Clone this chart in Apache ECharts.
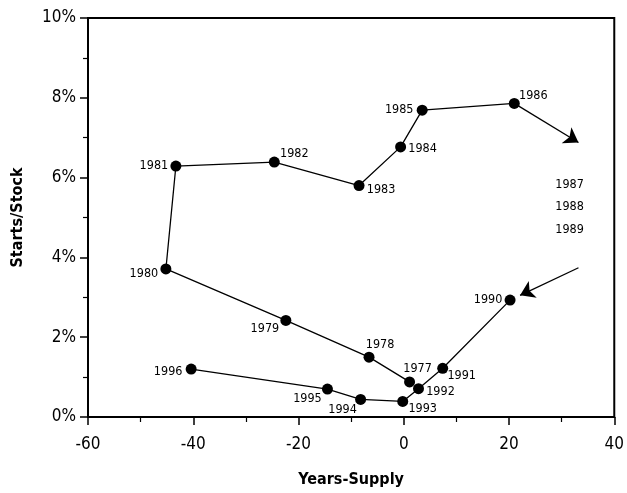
<!DOCTYPE html>
<html>
<head>
<meta charset="utf-8">
<script src="https://cdn.jsdelivr.net/npm/echarts@6/dist/echarts.min.js"></script>
<style>html,body{margin:0;padding:0;background:#fff;}#c{width:627px;height:493px;}</style>
</head>
<body>
<div id="c"></div>
<script>
// ---- data ----
const years1 = [1977, 1978, 1979, 1980, 1981, 1982, 1983, 1984, 1985, 1986];
const xs1 = [1.1, -6.6, -22.4, -45.2, -43.3, -24.6, -8.5, -0.6, 3.5, 21.0];
const ys1 = [0.88, 1.50, 2.42, 3.71, 6.29, 6.39, 5.80, 6.77, 7.69, 7.86];

const years2 = [1990, 1991, 1992, 1993, 1994, 1995, 1996];
const xs2 = [20.2, 7.4, 2.8, -0.2, -8.2, -14.5, -40.4];
const ys2 = [2.93, 1.22, 0.71, 0.39, 0.44, 0.70, 1.20];

const offYears = [1987, 1988, 1989];
const offXs = [31.5, 31.5, 31.5];
const offYs = [5.81, 5.27, 4.70];

const arrowOut = [[21.0, 7.86], [33.2, 6.88]];
const arrowIn = [[33.2, 3.74], [22.1, 3.05]];

const xTicks = [-60, -40, -20, 0, 20, 40];
const yTicks = [0, 2, 4, 6, 8, 10];

// label placement (pixels, relative to point centre)
const labelOffset = {
  1977: [8, -13], 1978: [11, -12], 1979: [-21, 8], 1980: [-22, 5],
  1981: [-22, 0], 1982: [20, -8], 1983: [22, 4], 1984: [22, 2],
  1985: [-23, 0], 1986: [19, -8], 1990: [-22, 0], 1991: [19, 7],
  1992: [22, 3], 1993: [20, 7], 1994: [-18, 10], 1995: [-20, 10],
  1996: [-23, 3]
};

const FONT = '"DejaVu Sans Condensed", "Liberation Sans Narrow", sans-serif';

function pts(years, xs, ys) {
  return years.map((yr, i) => ({
    value: [xs[i], ys[i], yr],
    label: { offset: labelOffset[yr] }
  }));
}

const ptLabel = {
  show: true,
  position: 'inside',
  formatter: p => String(p.value[2]),
  color: '#000',
  fontFamily: FONT,
  fontSize: 12.5,
  align: 'center',
  verticalAlign: 'middle'
};

const arrowStyle = { color: '#000', width: 1.3, type: 'solid', opacity: 1 };

const chart = echarts.init(document.getElementById('c'), null, { renderer: 'canvas' });
chart.setOption({
  backgroundColor: '#fff',
  animation: false,
  grid: { left: 88, right: 11, top: 18, bottom: 74, show: true, borderColor: '#000', borderWidth: 2, backgroundColor: 'transparent' },
  xAxis: {
    type: 'value', min: -60, max: 40, interval: 20,
    name: 'Years-Supply', nameLocation: 'middle', nameGap: 55,
    nameTextStyle: { fontFamily: FONT, fontSize: 16, fontWeight: 'bold', color: '#000' },
    axisLine: { show: true, onZero: false, lineStyle: { color: '#000', width: 2 } },
    axisTick: { show: true, length: 8, lineStyle: { color: '#000', width: 1.5 } },
    minorTick: { show: true, splitNumber: 2, length: 5, lineStyle: { color: '#000', width: 1.2 } },
    splitLine: { show: false },
    axisLabel: { margin: 19, color: '#000', fontFamily: FONT, fontSize: 17,
      formatter: v => xTicks.includes(v) ? String(v) : '' }
  },
  yAxis: {
    type: 'value', min: 0, max: 10, interval: 2,
    name: 'Starts/Stock', nameLocation: 'middle', nameGap: 62,
    nameTextStyle: { fontFamily: FONT, fontSize: 16, fontWeight: 'bold', color: '#000' },
    axisLine: { show: true, onZero: false, lineStyle: { color: '#000', width: 2 } },
    axisTick: { show: true, length: 8, lineStyle: { color: '#000', width: 1.5 } },
    minorTick: { show: true, splitNumber: 2, length: 5, lineStyle: { color: '#000', width: 1.2 } },
    splitLine: { show: false },
    axisLabel: { margin: 12, color: '#000', fontFamily: FONT, fontSize: 17,
      formatter: v => yTicks.includes(v) ? v + '%' : '' }
  },
  series: [
    {
      type: 'line', data: pts(years1, xs1, ys1),
      symbol: 'circle', symbolSize: 11,
      itemStyle: { color: '#000' },
      lineStyle: { color: '#000', width: 1.3 },
      label: ptLabel,
      emphasis: { disabled: true },
      markLine: {
        silent: true, symbol: ['none', 'arrow'], symbolSize: 14,
        label: { show: false }, lineStyle: arrowStyle, itemStyle: { color: '#000' }, emphasis: { disabled: true },
        data: [[{ coord: arrowOut[0] }, { coord: arrowOut[1] }]]
      }
    },
    {
      type: 'line', data: pts(years2, xs2, ys2),
      symbol: 'circle', symbolSize: 11,
      itemStyle: { color: '#000' },
      lineStyle: { color: '#000', width: 1.3 },
      label: ptLabel,
      emphasis: { disabled: true },
      markLine: {
        silent: true, symbol: ['none', 'arrow'], symbolSize: 14,
        label: { show: false }, lineStyle: arrowStyle, itemStyle: { color: '#000' }, emphasis: { disabled: true },
        data: [[{ coord: arrowIn[0] }, { coord: arrowIn[1] }]]
      }
    },
    {
      type: 'scatter',
      data: offYears.map((yr, i) => [offXs[i], offYs[i], yr]),
      symbolSize: 1,
      itemStyle: { color: 'rgba(0,0,0,0)', opacity: 1 },
      label: { show: true, position: 'inside', formatter: p => String(p.value[2]),
        color: '#000', opacity: 1, fontFamily: FONT, fontSize: 12.5, align: 'center', verticalAlign: 'middle' },
      emphasis: { disabled: true }
    }
  ]
});
</script>
</body>
</html>
